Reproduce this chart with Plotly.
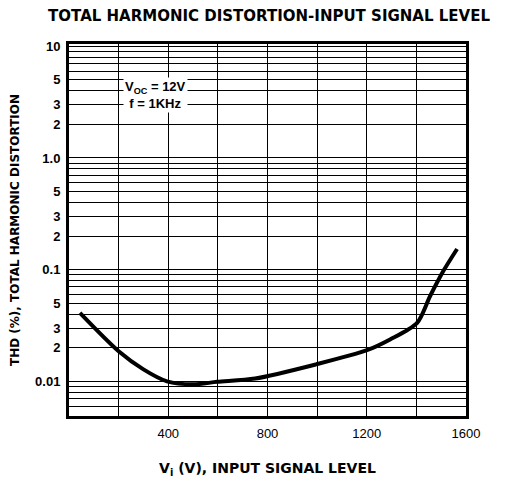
import plotly.graph_objects as go

# Curve data
vi = [44, 200, 300, 395, 500, 597, 750, 996, 1201, 1294, 1403, 1455, 1508, 1564]
thd = [0.041, 0.0186, 0.0128, 0.0100, 0.0094, 0.0099, 0.0106, 0.0142, 0.019, 0.0237, 0.0334, 0.0578, 0.0966, 0.153]

# Axis ticks / gridlines
x_ticks = [400, 800, 1200, 1600]
x_tick_labels = ["400", "800", "1200", "1600"]
x_grid = [200, 600, 1000, 1400]

y_ticks = [0.01, 0.02, 0.03, 0.05, 0.1, 0.2, 0.3, 0.5, 1, 2, 3, 5, 10]
y_tick_labels = ["0.01", "2", "3", "5", "0.1", "2", "3", "5", "1.0", "2", "3", "5", "10"]
y_grid = [0.005, 0.006, 0.007, 0.008, 0.009,
          0.04, 0.06, 0.07, 0.08, 0.09,
          0.4, 0.6, 0.7, 0.8, 0.9,
          4, 6, 7, 8, 9]

FONT = "Liberation Sans"
BOLD = "DejaVu Sans"

fig = go.Figure()
fig.add_trace(go.Scatter(x=vi, y=thd, mode="lines",
                         line=dict(color="black", width=4, shape="spline", smoothing=0.8),
                         showlegend=False, hoverinfo="skip"))

# page body adds an 8px offset, so the figure is 8px smaller than the window
fig.update_layout(
    width=501, height=471,
    margin=dict(l=61, r=43, t=36, b=63, autoexpand=False),
    paper_bgcolor="white", plot_bgcolor="white",
    title=dict(text="TOTAL HARMONIC DISTORTION-INPUT SIGNAL LEVEL",
               x=0.521, xanchor="center", y=0.994, yanchor="top",
               pad=dict(t=0, b=0, l=0, r=0),
               font=dict(family=BOLD, size=15, color="black", weight="bold")),
    font=dict(family=FONT, color="black"),
)

fig.update_xaxes(
    range=[0, 1600], tickmode="array", tickvals=x_ticks, ticktext=x_tick_labels,
    showgrid=True, gridcolor="black", gridwidth=1.3,
    minor=dict(tickmode="array", tickvals=x_grid, showgrid=True,
               gridcolor="black", gridwidth=1.3, ticks=""),
    showline=True, linecolor="black", linewidth=3, mirror=True,
    ticks="", ticklabelstandoff=3, zeroline=False, automargin=False,
    tickfont=dict(family=FONT, size=13, color="black"),
    title=dict(text="V<sub>i</sub> (V), INPUT SIGNAL LEVEL", standoff=24,
               font=dict(family=BOLD, size=14, color="black", weight="bold")),
)
fig.update_yaxes(
    type="log", range=[-2.31, 1.02], tickmode="array", tickvals=y_ticks, ticktext=y_tick_labels,
    showgrid=True, gridcolor="black", gridwidth=1.3,
    minor=dict(tickmode="array", tickvals=y_grid, showgrid=True,
               gridcolor="black", gridwidth=1.3, ticks=""),
    showline=True, linecolor="black", linewidth=3, mirror=True,
    ticks="", ticklabelstandoff=3, zeroline=False, automargin=False,
    tickfont=dict(family=FONT, size=13, color="black", weight="bold"),
    title=dict(text="THD (%), TOTAL HARMONIC DISTORTION", standoff=14,
               font=dict(family=BOLD, size=12, color="black", weight="bold")),
)

fig.add_annotation(
    x=0.219, y=0.863, xref="paper", yref="paper", xanchor="center", yanchor="middle",
    text="V<sub>OC</sub> = 12V<br>f = 1KHz", showarrow=False, align="center",
    bgcolor="white", borderpad=1,
    font=dict(family=FONT, size=13, color="black", weight="bold"),
)

fig.write_html("out.html")
